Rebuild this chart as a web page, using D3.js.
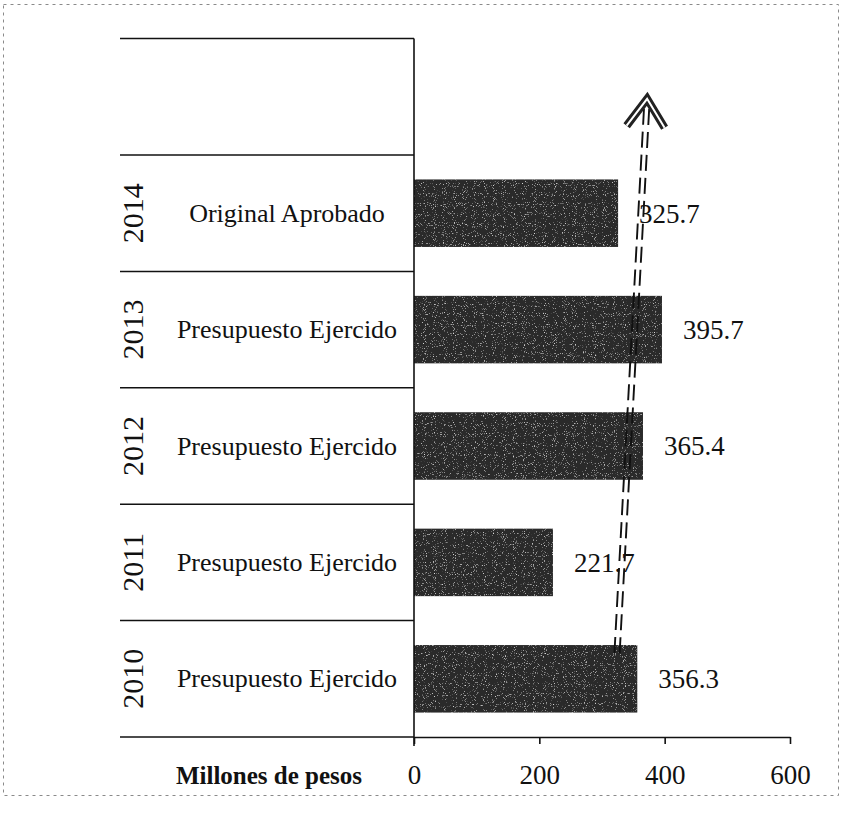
<!DOCTYPE html>
<html>
<head>
<meta charset="utf-8">
<script src="https://cdn.jsdelivr.net/npm/d3@7/dist/d3.min.js"></script>
<style>
  html, body { margin: 0; padding: 0; background: #fff; }
  svg { display: block; }
  text { font-family: "Liberation Serif", "DejaVu Serif", serif; fill: #111; }
</style>
</head>
<body>
<script>
// Presupuesto por año (millones de pesos)
const years = ["2014", "2013", "2012", "2011", "2010"];
const categories = ["Original Aprobado", "Presupuesto Ejercido", "Presupuesto Ejercido", "Presupuesto Ejercido", "Presupuesto Ejercido"];
const values = [325.7, 395.7, 365.4, 221.7, 356.3];
const tickValues = [0, 200, 400, 600];
const axisTitle = "Millones de pesos";
// trend arrow endpoints, in axis units
const trendFrom = 324;
const trendTo = 372;

const W = 846, H = 814;
const svg = d3.select("body").append("svg").attr("width", W).attr("height", H);

// grainy fill for the bars
const defs = svg.append("defs");
const f = defs.append("filter").attr("id", "grain").attr("x", 0).attr("y", 0).attr("width", 1).attr("height", 1);
f.append("feTurbulence").attr("type", "fractalNoise").attr("baseFrequency", 0.9).attr("numOctaves", 1).attr("seed", 7).attr("result", "n");
f.append("feColorMatrix").attr("in", "n").attr("type", "matrix")
  .attr("values", "0 0 0 0 1  0 0 0 0 1  0 0 0 0 1  3.2 0 0 0 -1.95").attr("result", "specks");
f.append("feComposite").attr("in", "specks").attr("in2", "SourceGraphic").attr("operator", "in").attr("result", "sp");
const fm = f.append("feMerge");
fm.append("feMergeNode").attr("in", "SourceGraphic");
fm.append("feMergeNode").attr("in", "sp");

// outer dotted frame
svg.append("rect").attr("x", 3.5).attr("y", 4.5).attr("width", 835).attr("height", 791)
  .attr("fill", "none").attr("stroke", "#8a8a8a").attr("stroke-width", 1)
  .attr("stroke-dasharray", "3 4");

const x = d3.scaleLinear().domain([0, 600]).range([414, 790]);
const y = d3.scaleBand().domain(years).range([155, 737]).paddingInner(0.42).paddingOuter(0.21);
const step = y.step();
const bw = y.bandwidth();
const tableLeft = 120;
const rowTop = d => y(d) - step * 0.21;
const topLine = rowTop(years[0]) - step;
const bottomLine = y.range()[1];

// table row lines (including empty header row)
const lines = [topLine, ...years.map(rowTop), bottomLine];
svg.append("g").selectAll("line").data(lines).join("line")
  .attr("x1", tableLeft).attr("x2", x(0)).attr("y1", d => d).attr("y2", d => d)
  .attr("stroke", "#111").attr("stroke-width", 1.5);

// bars
svg.append("g").selectAll("rect").data(years).join("rect")
  .attr("x", x(0)).attr("y", d => y(d))
  .attr("width", (d, i) => x(values[i]) - x(0)).attr("height", bw)
  .attr("fill", "#2a2a2a").attr("filter", "url(#grain)");

// vertical axis line
svg.append("line").attr("x1", x(0)).attr("x2", x(0)).attr("y1", topLine).attr("y2", bottomLine + 9)
  .attr("stroke", "#111").attr("stroke-width", 1.6);

// bottom axis
const ax = svg.append("g").attr("transform", `translate(0,${bottomLine})`)
  .call(d3.axisBottom(x).tickValues(tickValues).tickSizeInner(7).tickSizeOuter(0).tickPadding(18));
ax.select(".domain").attr("stroke", "#111").attr("stroke-width", 1.5);
ax.selectAll(".tick line").attr("stroke", "#111").attr("stroke-width", 1.6);
ax.selectAll(".tick text").attr("y", 47).attr("dy", 0)
  .style("font-family", '"Liberation Serif", serif').style("font-size", "27px").attr("fill", "#111");

// axis title
svg.append("text").attr("x", 269).attr("y", 784).attr("text-anchor", "middle")
  .style("font-size", "25px").style("font-weight", "bold").text(axisTitle);

// year labels
svg.append("g").selectAll("text").data(years).join("text")
  .attr("transform", d => `translate(143,${y(d) + bw / 2}) rotate(-90)`)
  .attr("text-anchor", "middle").style("font-size", "30px").text(d => d);

// category labels
svg.append("g").selectAll("text").data(years).join("text")
  .attr("x", 287).attr("y", d => y(d) + bw / 2).attr("dy", "0.33em")
  .attr("text-anchor", "middle").style("font-size", "26px").text((d, i) => categories[i]);

// value labels
svg.append("g").selectAll("text").data(years).join("text")
  .attr("x", (d, i) => x(values[i]) + 21).attr("y", d => y(d) + bw / 2).attr("dy", "0.35em")
  .style("font-size", "27px").text((d, i) => values[i].toFixed(1));

// dashed double trend arrow
const x1 = x(trendFrom), y1 = y(years[4]) + 8;
const x2 = x(trendTo), y2 = topLine + step * 0.5 + 2;
const len = Math.hypot(x2 - x1, y2 - y1);
const ux = (x2 - x1) / len, uy = (y2 - y1) / len;
const nx = -uy, ny = ux;
const shaftEnd = 10;
[-2.6, 2.6].forEach(o => {
  svg.append("line")
    .attr("x1", x1 + nx * o).attr("y1", y1 + ny * o)
    .attr("x2", x2 - ux * shaftEnd + nx * o).attr("y2", y2 - uy * shaftEnd + ny * o)
    .attr("stroke", "#111").attr("stroke-width", 1.9).attr("stroke-dasharray", "16 7");
});
const hw = 19, hl = 28;
const head = [
  [x2 - ux * hl + nx * hw, y2 - uy * hl + ny * hw],
  [x2, y2],
  [x2 - ux * hl - nx * hw, y2 - uy * hl - ny * hw]
];
svg.append("path").attr("d", d3.line()(head)).attr("fill", "none")
  .attr("stroke", "#222").attr("stroke-width", 8).attr("stroke-linejoin", "miter");
svg.append("path").attr("d", d3.line()(head)).attr("fill", "none")
  .attr("stroke", "#fff").attr("stroke-width", 2).attr("stroke-linejoin", "miter");
</script>
</body>
</html>
